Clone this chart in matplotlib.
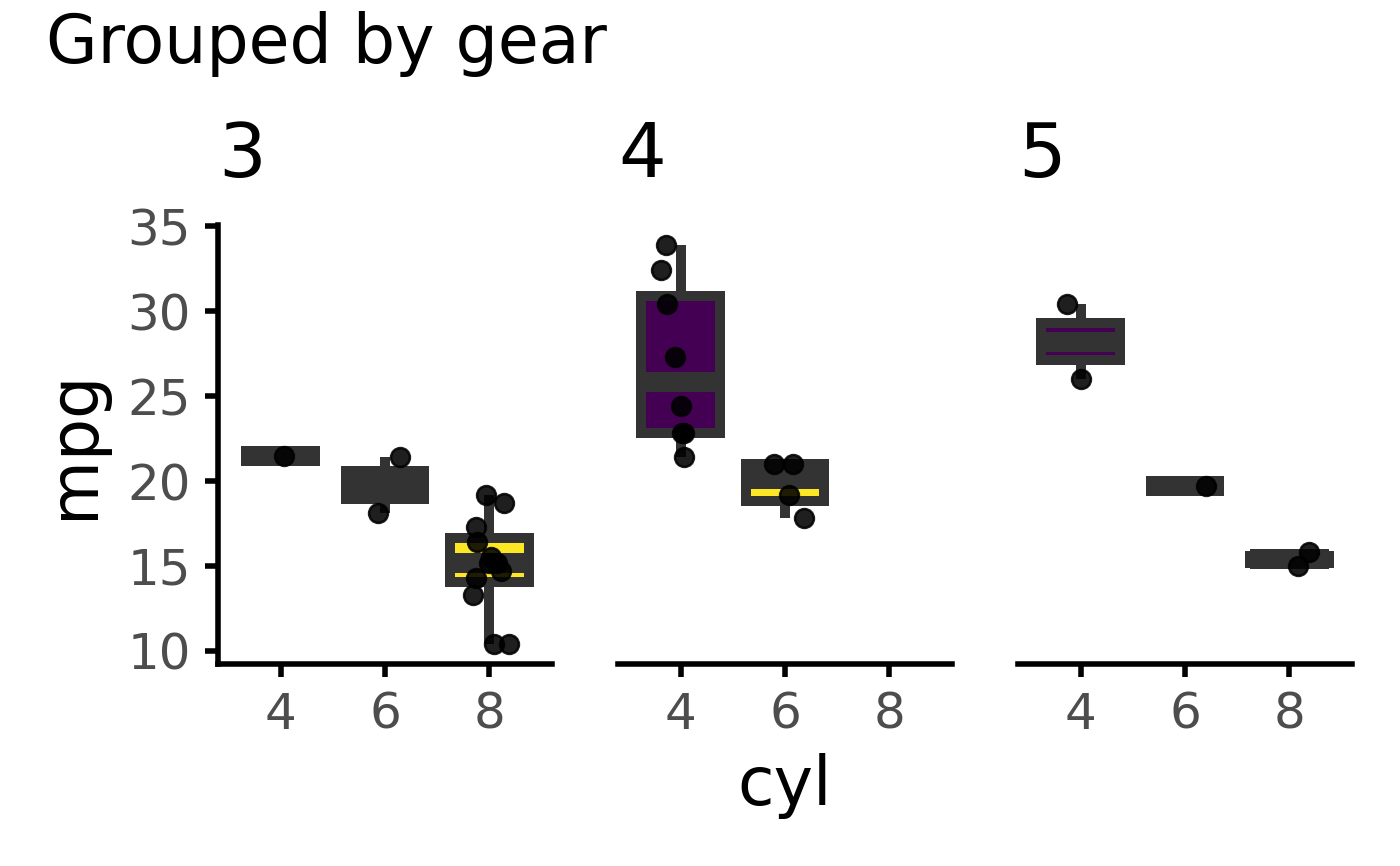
import matplotlib
matplotlib.use("Agg")
import matplotlib.pyplot as plt
import numpy as np

# mtcars, nach gear gruppiert: cyl, mpg und horizontaler Jitter
gear3_cyl = [4, 6, 6, 8, 8, 8, 8, 8, 8, 8, 8, 8, 8, 8, 8]
gear3_mpg = [21.5, 21.4, 18.1, 18.7, 14.3, 16.4, 17.3, 15.2, 10.4, 10.4, 14.7, 15.5, 15.2, 13.3, 19.2]
gear3_jit = [0.03, 0.14, -0.07, 0.14, -0.13, -0.12, -0.13, 0.07, 0.04, 0.19, 0.11, 0.02, 0.00, -0.16, -0.03]

gear4_cyl = [6, 6, 4, 4, 4, 6, 6, 4, 4, 4, 4, 4]
gear4_mpg = [21.0, 21.0, 22.8, 24.4, 22.8, 19.2, 17.8, 32.4, 30.4, 33.9, 27.3, 21.4]
gear4_jit = [-0.11, 0.08, 0.01, 0.00, 0.03, 0.04, 0.18, -0.19, -0.13, -0.14, -0.05, 0.03]

gear5_cyl = [4, 4, 8, 6, 8]
gear5_mpg = [26.0, 30.4, 15.8, 19.7, 15.0]
gear5_jit = [0.00, -0.13, 0.19, 0.20, 0.08]

gears = ["3", "4", "5"]
cyl_levels = [4, 6, 8]
# Fuellfarbe je Box (viridis-Enden)
fills = [["#440154", "#440154", "#FDE725"],
         ["#440154", "#FDE725", "#FDE725"],
         ["#440154", "#FDE725", "#FDE725"]]

W, H = 1400, 866
fig = plt.figure(figsize=(14, 8.66), dpi=100)

def px(x, y):
    return x / W, 1 - y / H

LINIE = "#333333"
LW = 7.2
panel_links = [218, 618, 1018]
ax_w, ax_top, ax_bot = 334, 225, 664

daten = [(gear3_cyl, gear3_mpg, gear3_jit),
         (gear4_cyl, gear4_mpg, gear4_jit),
         (gear5_cyl, gear5_mpg, gear5_jit)]

for i, (cyl, mpg, jit) in enumerate(daten):
    l = panel_links[i]
    ax = fig.add_axes([l / W, 1 - ax_bot / H, ax_w / W, (ax_bot - ax_top) / H])
    cyl = np.array(cyl)
    mpg = np.array(mpg)
    jit = np.array(jit)

    gruppen, pos, farben = [], [], []
    for k, c in enumerate(cyl_levels):
        werte = mpg[cyl == c]
        if len(werte) > 0:
            gruppen.append(werte)
            pos.append(k + 1)
            farben.append(fills[i][k])

    bp = ax.boxplot(gruppen, positions=pos, widths=0.75, patch_artist=True,
                    showcaps=False, showfliers=False, whis=1.5,
                    boxprops=dict(edgecolor=LINIE, linewidth=LW, joinstyle="miter"),
                    medianprops=dict(color=LINIE, linewidth=2 * LW, solid_capstyle="butt"),
                    whiskerprops=dict(color=LINIE, linewidth=LW, solid_capstyle="butt"))
    for box, f, werte in zip(bp["boxes"], farben, gruppen):
        box.set_facecolor(f)
        if len(werte) == 1:
            # Box ohne Hoehe: nur die Medianlinie bleibt sichtbar
            box.set_linewidth(0)

    xpos = np.array([cyl_levels.index(c) + 1 for c in cyl]) + jit
    ax.scatter(xpos, mpg, s=185, facecolor="black", edgecolor="black",
               linewidths=1.8, alpha=0.88, zorder=5)

    ax.set_xlim(0.4, 3.6)
    ax.set_ylim(9.225, 35.075)
    ax.set_xticks([1, 2, 3])
    ax.set_xticklabels([str(c) for c in cyl_levels])
    ax.set_yticks([10, 15, 20, 25, 30, 35])
    ax.tick_params(axis="both", length=9.4, width=4, color="black",
                   labelsize=36, labelcolor="#4D4D4D", pad=10)
    for s in ["top", "right"]:
        ax.spines[s].set_visible(False)
    ax.spines["bottom"].set_linewidth(4)
    ax.spines["left"].set_linewidth(4)
    if i > 0:
        ax.spines["left"].set_visible(False)
        ax.tick_params(axis="y", left=False, labelleft=False)

    fig.text(*px(l, 177), gears[i], fontsize=54, ha="left", va="baseline")

fig.text(*px(46, 63), "Grouped by gear", fontsize=48, ha="left", va="baseline")
fig.text(*px(785, 805), "cyl", fontsize=48, ha="center", va="baseline")
fig.text(*px(93, 444.5), "mpg", fontsize=48, ha="center", va="baseline",
         rotation=90, rotation_mode="anchor")

fig.savefig("out.png", dpi=100)
